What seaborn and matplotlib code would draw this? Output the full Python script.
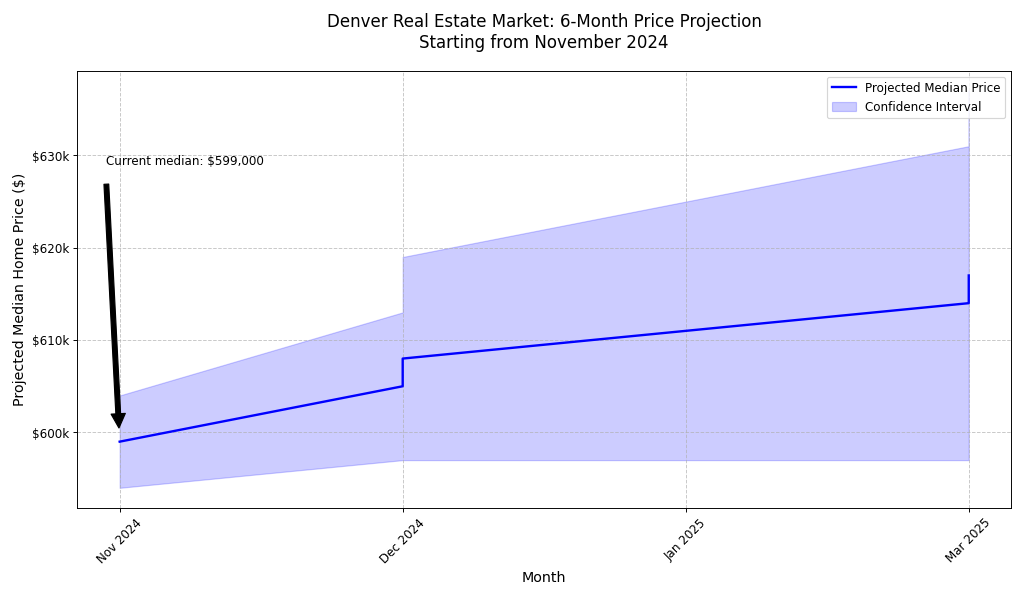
import pandas as pd
import matplotlib
matplotlib.use("Agg")
import matplotlib.pyplot as plt
import matplotlib.ticker as mticker
import seaborn as sns

#%% Data: six monthly projections (month labels repeat where steps fall in same month)

months = ['Nov 2024', 'Dec 2024', 'Dec 2024', 'Jan 2025', 'Mar 2025', 'Mar 2025']
median_price = [599000, 605000, 608000, 611000, 614000, 617000]
lower_bound = [594000, 597000, 597000, 597000, 597000, 597000]
upper_bound = [604000, 613000, 619000, 625000, 631000, 637000]

df = pd.DataFrame({'Month': months, 'Price': median_price,
                   'Lower': lower_bound, 'Upper': upper_bound})

#%% Plot

fig, ax = plt.subplots(figsize=(12, 7), dpi=1024/12)

sns.lineplot(data=df, x='Month', y='Price', estimator=None, sort=False,
             color='blue', linewidth=2, label='Projected Median Price', ax=ax)
ax.fill_between(df['Month'], df['Lower'], df['Upper'], color='blue', alpha=0.2,
                label='Confidence Interval')

ax.annotate(f"Current median: ${median_price[0]:,}",
            xy=(0, median_price[0]), xytext=(-0.05, median_price[0]*1.05),
            arrowprops=dict(facecolor='black', shrink=0.05))

ax.set_title("Denver Real Estate Market: 6-Month Price Projection\nStarting from November 2024",
             fontsize=14, pad=20)
ax.set_xlabel("Month", fontsize=12)
ax.set_ylabel("Projected Median Home Price ($)", fontsize=12)
ax.yaxis.set_major_formatter(mticker.FuncFormatter(lambda v, p: f"${v/1000:.0f}k"))
plt.setp(ax.get_xticklabels(), rotation=45)
ax.grid(True, linestyle='--', alpha=0.7)
ax.legend(loc='upper right')

plt.tight_layout()
plt.savefig('out.png')
